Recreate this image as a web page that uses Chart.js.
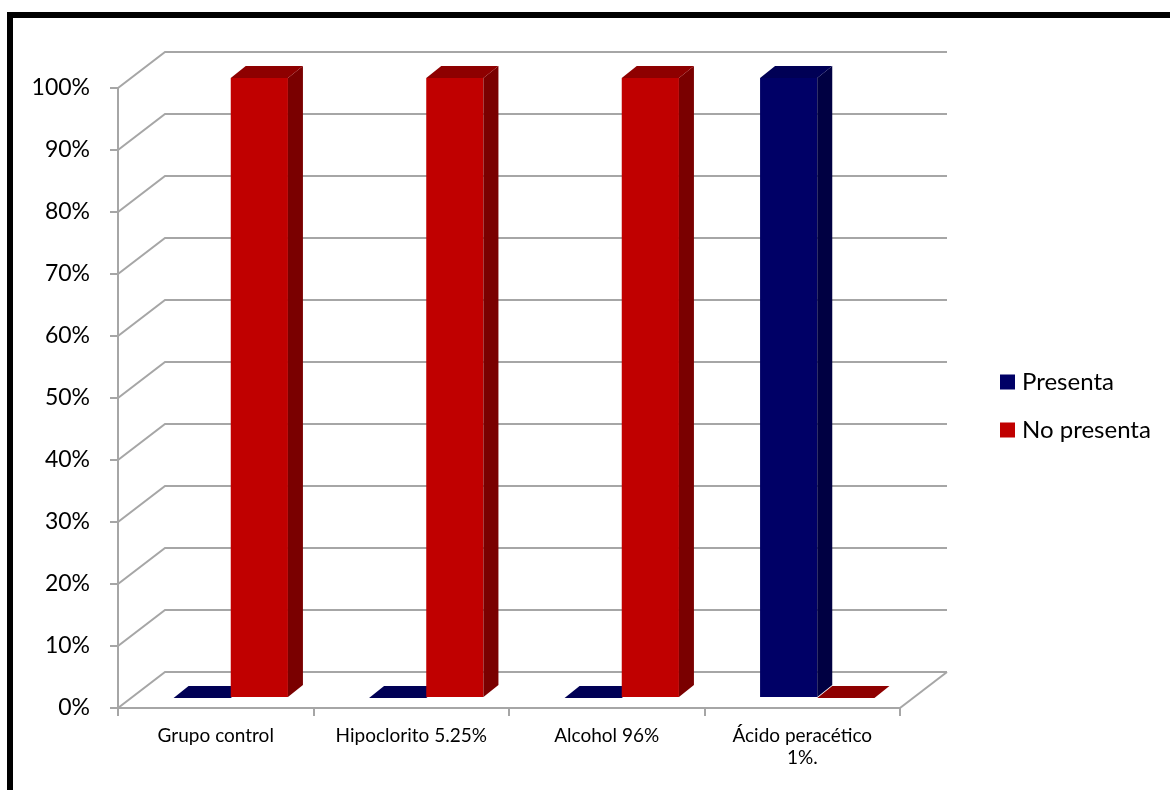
<!DOCTYPE html>
<html>
<head>
<meta charset="utf-8">
<script src="https://cdn.jsdelivr.net/npm/chart.js@4/dist/chart.umd.min.js"></script>
<style>
  html,body{margin:0;padding:0;background:#fff;}
  #wrap{width:1170px;height:790px;position:relative;}
</style>
</head>
<body>
<div id="wrap"><canvas id="chart" width="1170" height="790"></canvas></div>
<script>
const categories = ["Grupo control","Hipoclorito 5.25%","Alcohol 96%",["Ácido peracético","1%."]];
const presenta = [0,0,0,100];
const noPresenta = [100,100,100,0];
const seriesNames = ["Presenta","No presenta"];

const GRID = "#a6a6a6";
const WALL = {dx:47, dy:-36};     // back wall offset
const BAR_SHIFT = {dx:15, dy:-10}; // bar front face offset from front plane
const BAR_DEPTH = {dx:15, dy:-12};
const FONT = "Lato, 'Noto Sans', sans-serif";

const frame = {
  id:"frame",
  beforeDraw(chart){
    const c=chart.ctx;
    c.save();
    c.fillStyle="#fff"; c.fillRect(0,0,chart.width,chart.height);
    c.fillStyle="#000";
    c.fillRect(7,12,chart.width-7,6);
    c.fillRect(7,12,6,chart.height-12);
    c.restore();
  }
};

const box3d = {
  id:"box3d",
  beforeDatasetsDraw(chart){
    const c=chart.ctx, y=chart.scales.y, a=chart.chartArea;
    c.save();
    c.strokeStyle=GRID; c.lineWidth=2;
    // oblique side lines and back wall gridlines
    y.ticks.forEach(t=>{
      const py=y.getPixelForValue(t.value);
      c.beginPath();
      c.moveTo(a.left,py);
      c.lineTo(a.left+WALL.dx,py+WALL.dy);
      c.lineTo(a.right+WALL.dx,py+WALL.dy);
      c.stroke();
    });
    // floor right edge
    c.beginPath();
    c.moveTo(a.right,a.bottom);
    c.lineTo(a.right+WALL.dx,a.bottom+WALL.dy);
    c.stroke();
    // bars, category by category, series left to right
    const metas=chart.data.datasets.map((d,i)=>chart.getDatasetMeta(i));
    for(let k=0;k<chart.data.labels.length;k++){
      metas.forEach((m,i)=>{
        const ds=chart.data.datasets[i];
        const el=m.data[k];
        const p=el.getProps(["x","y","base","width"],true);
        const l=p.x-p.width/2+BAR_SHIFT.dx, r=p.x+p.width/2+BAR_SHIFT.dx;
        const t=Math.min(p.y,p.base)+BAR_SHIFT.dy, b=Math.max(p.y,p.base)+BAR_SHIFT.dy;
        const ddx=BAR_DEPTH.dx, ddy=BAR_DEPTH.dy;
        // front
        c.fillStyle=ds.backgroundColor;
        c.fillRect(l,t,r-l,b-t);
        // right side
        c.fillStyle=ds.sideColor;
        c.beginPath();
        c.moveTo(r,b); c.lineTo(r+ddx,b+ddy); c.lineTo(r+ddx,t+ddy); c.lineTo(r,t);
        c.closePath(); c.fill();
        // top
        c.fillStyle=ds.topColor;
        c.beginPath();
        c.moveTo(l,t); c.lineTo(r,t); c.lineTo(r+ddx,t+ddy); c.lineTo(l+ddx,t+ddy);
        c.closePath(); c.fill();
      });
    }
    c.restore();
    return false;
  }
};

const sideLegend = {
  id:"sideLegend",
  afterDraw(chart){
    const c=chart.ctx;
    c.save();
    c.font="24px "+FONT;
    c.textBaseline="middle";
    chart.data.datasets.forEach((ds,i)=>{
      const cy=382+i*48;
      c.fillStyle=ds.backgroundColor;
      c.fillRect(1000,cy-7.5,15,15);
      c.fillStyle="#000";
      c.fillText(ds.label,1022,cy);
    });
    c.restore();
  }
};

new Chart(document.getElementById("chart"),{
  type:"bar",
  data:{
    labels:categories,
    datasets:[
      {label:seriesNames[0],data:presenta,backgroundColor:"#000066",sideColor:"#000042",topColor:"#000055"},
      {label:seriesNames[1],data:noPresenta,backgroundColor:"#c00000",sideColor:"#7a0000",topColor:"#8e0000"},
    ],
  },
  options:{
    responsive:false,
    animation:false,
    categoryPercentage:0.585,
    barPercentage:1.0,
    layout:{padding:{top:88,right:270,left:0,bottom:0}},
    plugins:{legend:{display:false},tooltip:{enabled:false}},
    scales:{
      x:{
        offset:true,
        grid:{drawOnChartArea:false,drawTicks:true,tickLength:8,color:GRID,lineWidth:2,offset:true},
        border:{display:true,color:GRID,width:2},
        ticks:{color:"#000",font:{family:FONT,size:19,lineHeight:1.2},padding:8,maxRotation:0,autoSkip:false},
        afterFit(s){s.height=82;},
      },
      y:{
        min:0,max:100,
        grid:{drawOnChartArea:false,drawTicks:true,tickLength:8,color:GRID,lineWidth:2},
        border:{display:true,color:GRID,width:2},
        ticks:{stepSize:10,callback:v=>v+"%",color:"#000",font:{family:FONT,size:23},padding:20},
        afterFit(s){s.width=118;},
      },
    },
  },
  plugins:[frame,box3d,sideLegend],
});
</script>
</body>
</html>
